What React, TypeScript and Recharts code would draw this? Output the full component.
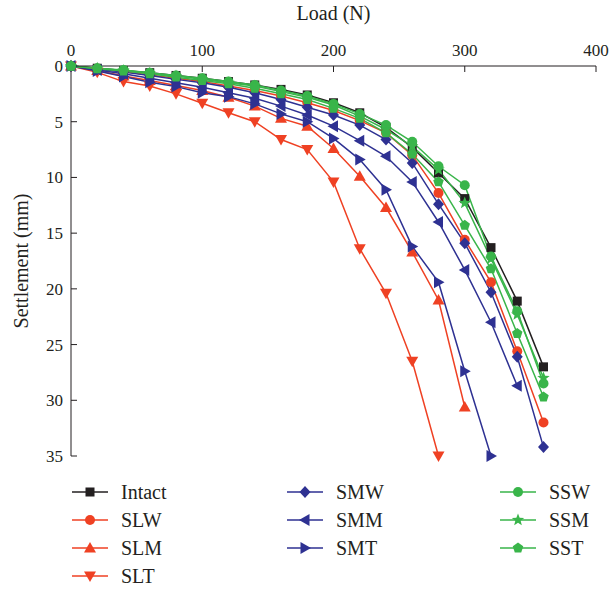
import React from 'react';
import { LineChart, Line, XAxis, YAxis } from 'recharts';

const black = '#231f20';
const red = '#ef4123';
const blue = '#2e3192';
const green = '#39b54a';
const font = '"Liberation Serif", "Times New Roman", serif';

// Load steps (N)
const loads = [0, 20, 40, 60, 80, 100, 120, 140, 160, 180, 200, 220, 240, 260, 280, 300, 320, 340, 360];
const xTicks = [0, 100, 200, 300, 400];
const yTicks = [0, 5, 10, 15, 20, 25, 30, 35];

// Settlement (mm) per case
const intact = [0, 0.2, 0.4, 0.6, 0.85, 1.1, 1.4, 1.7, 2.1, 2.6, 3.3, 4.2, 5.5, 7.3, 9.6, 11.9, 16.3, 21.1, 27.0];
const slw = [0, 0.25, 0.5, 0.8, 1.1, 1.4, 1.8, 2.2, 2.7, 3.3, 4.0, 4.9, 6.0, 8.0, 11.4, 15.6, 19.4, 25.6, 32.0];
const slm = [0, 0.4, 0.9, 1.3, 1.75, 2.2, 2.8, 3.6, 4.7, 5.4, 7.4, 9.9, 12.7, 16.7, 21.0, 30.6];
const slt = [0, 0.57, 1.4, 1.8, 2.5, 3.35, 4.2, 5.0, 6.6, 7.5, 10.4, 16.4, 20.4, 26.5, 35.0];
const smw = [0, 0.3, 0.55, 0.85, 1.2, 1.5, 1.9, 2.4, 3.0, 3.7, 4.4, 5.3, 6.6, 8.7, 12.4, 15.9, 20.3, 26.1, 34.2];
const smm = [0, 0.35, 0.7, 1.1, 1.5, 1.9, 2.4, 2.9, 3.6, 4.4, 5.4, 6.7, 8.1, 10.4, 14.0, 18.3, 23.0, 28.7];
const smt = [0, 0.45, 0.95, 1.45, 1.85, 2.4, 2.75, 3.4, 4.3, 5.0, 6.5, 8.4, 11.1, 16.2, 19.4, 27.4, 35.0];
const ssw = [0, 0.2, 0.35, 0.6, 0.85, 1.1, 1.4, 1.7, 2.2, 2.7, 3.4, 4.3, 5.3, 6.8, 9.0, 10.7, 17.1, 22.0, 28.5];
const ssm = [0, 0.2, 0.4, 0.65, 0.9, 1.2, 1.5, 1.8, 2.3, 2.8, 3.5, 4.5, 5.7, 7.2, 9.3, 12.3, 17.3, 22.3, 28.0];
const sst = [0, 0.25, 0.45, 0.7, 1.0, 1.3, 1.6, 2.0, 2.5, 3.0, 3.8, 4.7, 6.0, 7.9, 10.4, 14.3, 18.2, 24.0, 29.7];

const series = [
  { name: 'Intact', values: intact, color: black, shape: 'square' },
  { name: 'SLW', values: slw, color: red, shape: 'circle' },
  { name: 'SLM', values: slm, color: red, shape: 'up' },
  { name: 'SLT', values: slt, color: red, shape: 'down' },
  { name: 'SMW', values: smw, color: blue, shape: 'diamond' },
  { name: 'SMM', values: smm, color: blue, shape: 'left' },
  { name: 'SMT', values: smt, color: blue, shape: 'right' },
  { name: 'SSW', values: ssw, color: green, shape: 'circle' },
  { name: 'SSM', values: ssm, color: green, shape: 'star' },
  { name: 'SST', values: sst, color: green, shape: 'pentagon' },
];

const data = loads.map((load, i) => {
  const row: Record<string, number | undefined> = { load };
  series.forEach((s) => {
    row[s.name] = s.values[i];
  });
  return row;
});

const polyPoints = (cx: number, cy: number, n: number, r: number, inner?: number) => {
  const pts: string[] = [];
  const count = inner ? n * 2 : n;
  for (let k = 0; k < count; k++) {
    const a = -Math.PI / 2 + (k * 2 * Math.PI) / count;
    const rr = inner && k % 2 === 1 ? inner : r;
    pts.push(`${cx + rr * Math.cos(a)},${cy + rr * Math.sin(a)}`);
  }
  return pts.join(' ');
};

const Marker = ({ cx, cy, shape, color }: { cx?: number; cy?: number; shape: string; color: string }) => {
  if (cx == null || cy == null || isNaN(cx) || isNaN(cy)) return null;
  switch (shape) {
    case 'square':
      return <rect x={cx - 4.5} y={cy - 4.5} width={9} height={9} fill={color} />;
    case 'circle':
      return <circle cx={cx} cy={cy} r={5} fill={color} />;
    case 'up':
      return <polygon points={`${cx},${cy - 6} ${cx + 6},${cy + 4.5} ${cx - 6},${cy + 4.5}`} fill={color} />;
    case 'down':
      return <polygon points={`${cx},${cy + 6} ${cx + 6},${cy - 4.5} ${cx - 6},${cy - 4.5}`} fill={color} />;
    case 'left':
      return <polygon points={`${cx - 6},${cy} ${cx + 4.5},${cy - 6} ${cx + 4.5},${cy + 6}`} fill={color} />;
    case 'right':
      return <polygon points={`${cx + 6},${cy} ${cx - 4.5},${cy - 6} ${cx - 4.5},${cy + 6}`} fill={color} />;
    case 'diamond':
      return <polygon points={`${cx},${cy - 6} ${cx + 5.5},${cy} ${cx},${cy + 6} ${cx - 5.5},${cy}`} fill={color} />;
    case 'star':
      return <polygon points={polyPoints(cx, cy, 5, 6.5, 2.8)} fill={color} />;
    case 'pentagon':
      return <polygon points={polyPoints(cx, cy, 5, 5.5)} fill={color} />;
    default:
      return null;
  }
};

const legendCols = [72, 287, 500];

const App = () => {
  return (
    <div style={{ position: 'absolute', left: 0, top: 0, width: 612, height: 590, background: '#fff', fontFamily: font }}>
      <LineChart width={612} height={590} data={data} margin={{ top: 0, right: 16, left: 11, bottom: 134 }}>
        <XAxis
          dataKey="load"
          type="number"
          orientation="top"
          domain={[0, 400]}
          ticks={xTicks}
          height={66}
          tickSize={-6}
          tickMargin={16}
          axisLine={{ stroke: black }}
          tickLine={{ stroke: black }}
          tick={{ fontSize: 17, fill: black, fontFamily: font }}
          label={{ value: 'Load (N)', position: 'insideTop', offset: 6, style: { fontSize: 20, fill: black, fontFamily: font } }}
        />
        <YAxis
          type="number"
          reversed
          domain={[0, 35]}
          ticks={yTicks}
          width={60}
          tickSize={-6}
          tickMargin={14}
          axisLine={{ stroke: black }}
          tickLine={{ stroke: black }}
          tick={{ fontSize: 17, fill: black, fontFamily: font }}
          label={{ value: 'Settlement (mm)', angle: -90, position: 'insideLeft', offset: 10, style: { fontSize: 20, fill: black, fontFamily: font, textAnchor: 'middle' } }}
        />
        {series.map((s) => (
          <Line
            key={s.name}
            dataKey={s.name}
            stroke={s.color}
            strokeWidth={1.5}
            isAnimationActive={false}
            activeDot={false}
            dot={(p: any) => <Marker key={`${s.name}-${p.index}`} cx={p.cx} cy={p.cy} shape={s.shape} color={s.color} />}
          />
        ))}
      </LineChart>

      {/* Legend */}
      {series.map((s, i) => {
        const col = i < 4 ? 0 : i < 7 ? 1 : 2;
        const row = i < 4 ? i : i < 7 ? i - 4 : i - 7;
        return (
          <div
            key={s.name}
            style={{ position: 'absolute', left: legendCols[col], top: 492 + row * 28 - 12, height: 24, display: 'flex', alignItems: 'center' }}
          >
            <svg width={36} height={14}>
              <line x1={0} y1={7} x2={36} y2={7} stroke={s.color} strokeWidth={1.5} />
              <Marker cx={18} cy={7} shape={s.shape} color={s.color} />
            </svg>
            <span style={{ marginLeft: 13, fontSize: 20, color: black, lineHeight: '24px' }}>{s.name}</span>
          </div>
        );
      })}
    </div>
  );
};

export default App;
